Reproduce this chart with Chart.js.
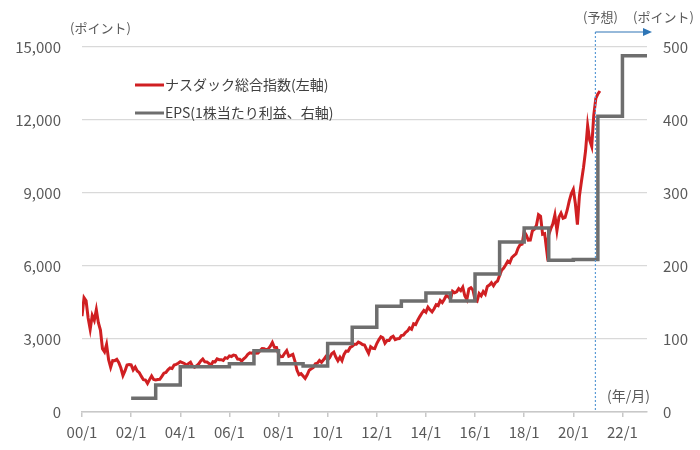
<!DOCTYPE html>
<html>
<head>
<meta charset="utf-8">
<script src="https://cdn.jsdelivr.net/npm/chart.js"></script>
<style>
  body { margin: 0; background: #fff; }
  #wrap { width: 700px; height: 450px; }
</style>
</head>
<body>
<div id="wrap"><canvas id="nasdaq-chart" width="700" height="450"></canvas></div>
<script>
/*------------------------ DATA ---------------------------------*/

// Nasdaq composite, monthly close, from 2000/1 to 2021/2
const nasdaqStart = 2000
const nasdaqMonthly = [
    3940, 4697, 4573, 3861, 3401, 3966, 3767, 4206, 3673, 3370, 2598, 2471,
    2773, 2152, 1840, 2116, 2110, 2161, 2027, 1805, 1499, 1690, 1931, 1950,
    1934, 1731, 1845, 1688, 1616, 1463, 1328, 1315, 1172, 1330, 1479, 1336,
    1321, 1338, 1341, 1464, 1596, 1623, 1735, 1810, 1787, 1932, 1960, 2003,
    2066, 2030, 1994, 1920, 1987, 2048, 1887, 1838, 1897, 1975, 2097, 2175,
    2062, 2052, 1999, 1922, 2068, 2057, 2185, 2152, 2152, 2120, 2233, 2205,
    2306, 2281, 2340, 2323, 2179, 2172, 2091, 2184, 2258, 2367, 2432, 2415,
    2464, 2416, 2422, 2525, 2605, 2603, 2546, 2596, 2701, 2859, 2661, 2652,
    2389, 2271, 2279, 2413, 2523, 2293, 2326, 2368, 2092, 1721, 1536, 1577,
    1476, 1378, 1529, 1717, 1774, 1835, 1979, 2009, 2122, 2045, 2145, 2269,
    2147, 2238, 2398, 2461, 2257, 2109, 2255, 2114, 2369, 2507, 2498, 2653,
    2700, 2782, 2781, 2874, 2835, 2774, 2756, 2579, 2415, 2684, 2620, 2605,
    2814, 2967, 3092, 3046, 2827, 2935, 2940, 3067, 3116, 2977, 3010, 3020,
    3142, 3160, 3268, 3329, 3456, 3403, 3626, 3590, 3771, 3920, 4060, 4177,
    4104, 4308, 4199, 4115, 4243, 4408, 4370, 4580, 4493, 4631, 4792, 4736,
    4635, 4964, 4901, 4941, 5070, 4987, 5128, 4777, 4620, 5054, 5109, 5007,
    4614, 4558, 4870, 4775, 4948, 4843, 5162, 5213, 5312, 5189, 5324, 5383,
    5615, 5825, 5912, 6048, 6199, 6140, 6348, 6429, 6496, 6728, 6874, 6903,
    7411, 7273, 7063, 7066, 7442, 7510, 7672, 8110, 8046, 7306, 7331, 6635,
    7282, 7533, 7729, 8095, 7453, 8006, 8175, 7963, 7999, 8292, 8665, 8973,
    9151, 8567, 7700, 8890, 9490, 10059, 10745, 11775, 11168, 10912, 12199, 12888,
    13070, 13192
]

// EPS (right axis): value holds from the given year until the next one
const epsYears  = [2002, 2003, 2004, 2006, 2007, 2008, 2009, 2010, 2011, 2012, 2013, 2014, 2015, 2016, 2017, 2018, 2019, 2020, 2021, 2022, 2023]
const epsValues = [19, 37, 62, 66, 84, 66, 63, 94, 116, 145, 152, 163, 152, 189, 233, 252, 208, 209, 405, 488, 488]

const tickYears = [2000, 2002, 2004, 2006, 2008, 2010, 2012, 2014, 2016, 2018, 2020, 2022]
const forecastFrom = 2020.9

/*------------------------ CHART ---------------------------------*/

const tickColor = '#595959'
const jpFont = '"Noto Sans CJK JP", "Noto Sans", sans-serif'

const nasdaqPoints = nasdaqMonthly.map((v, i) => ({ x: nasdaqStart + i / 12, y: v }))
const epsPoints = epsYears.map((yr, i) => ({ x: yr, y: epsValues[i] }))

const chartData = {
    datasets: [{
        label: 'ナスダック総合指数(左軸)',
        data: nasdaqPoints,
        yAxisID: 'y',
        borderColor: '#d01f22',
        borderWidth: 3,
        pointRadius: 0,
        tension: 0,
        order: 2
    }, {
        label: 'EPS(1株当たり利益、右軸)',
        data: epsPoints,
        yAxisID: 'y1',
        borderColor: '#6e6e6e',
        borderWidth: 3.5,
        pointRadius: 0,
        stepped: true,
        order: 1
    }]
}

// legend, axis titles and the forecast marker
const extras = {
    id: 'extras',
    afterDraw(chart) {
        const ctx = chart.ctx
        const area = chart.chartArea
        const xs = chart.scales.x

        ctx.save()
        // legend inside the plot
        const legendY = [85, 113]
        chart.data.datasets.forEach((ds, i) => {
            ctx.strokeStyle = ds.borderColor
            ctx.lineWidth = 3
            ctx.beginPath()
            ctx.moveTo(135, legendY[i])
            ctx.lineTo(164, legendY[i])
            ctx.stroke()
            ctx.fillStyle = '#404040'
            ctx.font = '14px ' + jpFont
            ctx.textBaseline = 'middle'
            ctx.textAlign = 'left'
            ctx.fillText(ds.label, 165, legendY[i])
        })

        // forecast line + arrow
        const fx = xs.getPixelForValue(forecastFrom)
        const arrowY = 32
        ctx.strokeStyle = '#5b9bd5'
        ctx.lineWidth = 1.2
        ctx.setLineDash([2, 2])
        ctx.beginPath()
        ctx.moveTo(fx, arrowY)
        ctx.lineTo(fx, area.bottom)
        ctx.stroke()
        ctx.setLineDash([])
        ctx.strokeStyle = '#2e75b6'
        ctx.beginPath()
        ctx.moveTo(fx, arrowY)
        ctx.lineTo(area.right - 2, arrowY)
        ctx.stroke()
        ctx.fillStyle = '#2e75b6'
        ctx.beginPath()
        ctx.moveTo(area.right + 5, arrowY)
        ctx.lineTo(area.right - 4, arrowY - 4)
        ctx.lineTo(area.right - 4, arrowY + 4)
        ctx.closePath()
        ctx.fill()

        // titles
        ctx.fillStyle = tickColor
        ctx.font = '13px ' + jpFont
        ctx.textBaseline = 'middle'
        ctx.textAlign = 'left'
        ctx.fillText('(ポイント)', 70, 28)
        ctx.fillText('(予想)', 583, 17)
        ctx.fillText('(ポイント)', 633, 17)
        ctx.font = '14px ' + jpFont
        ctx.textAlign = 'right'
        ctx.fillText('(年/月)', area.right + 3, area.bottom - 16)
        ctx.restore()
    }
}

const chartOptions = {
    type: 'line',
    data: chartData,
    options: {
        responsive: false,
        animation: false,
        layout: { padding: { top: 47, left: 0, right: 0, bottom: 0 } },
        scales: {
            x: {
                type: 'linear',
                min: 2000,
                max: 2023,
                afterBuildTicks: (scale) => { scale.ticks = tickYears.map(v => ({ value: v })) },
                afterFit: (scale) => { scale.height = 38 },
                border: { display: true, color: '#c8c8c8', width: 1.5 },
                grid: { drawOnChartArea: false, drawTicks: true, tickLength: 5, color: '#c8c8c8', lineWidth: 1.5 },
                ticks: {
                    color: tickColor,
                    font: { size: 15, family: jpFont },
                    padding: 6,
                    maxRotation: 0,
                    callback: (v) => String(v % 100).padStart(2, '0') + '/1'
                }
            },
            y: {
                position: 'left',
                min: 0,
                max: 15000,
                afterFit: (scale) => { scale.width = 82 },
                border: { display: false },
                grid: { color: '#d9d9d9', lineWidth: 1.2, drawTicks: false },
                ticks: {
                    stepSize: 3000,
                    color: tickColor,
                    font: { size: 15, family: jpFont },
                    padding: 21,
                    callback: (v) => v.toLocaleString('en-US')
                }
            },
            y1: {
                position: 'right',
                min: 0,
                max: 500,
                afterFit: (scale) => { scale.width = 53 },
                border: { display: false },
                grid: { drawOnChartArea: false, drawTicks: false },
                ticks: {
                    stepSize: 100,
                    color: tickColor,
                    font: { size: 15, family: jpFont },
                    padding: 16
                }
            }
        },
        plugins: {
            legend: { display: false },
            tooltip: { enabled: false }
        }
    },
    plugins: [extras]
}

const nasdaqChart = new Chart(document.querySelector('#nasdaq-chart').getContext('2d'), chartOptions)
</script>
</body>
</html>
